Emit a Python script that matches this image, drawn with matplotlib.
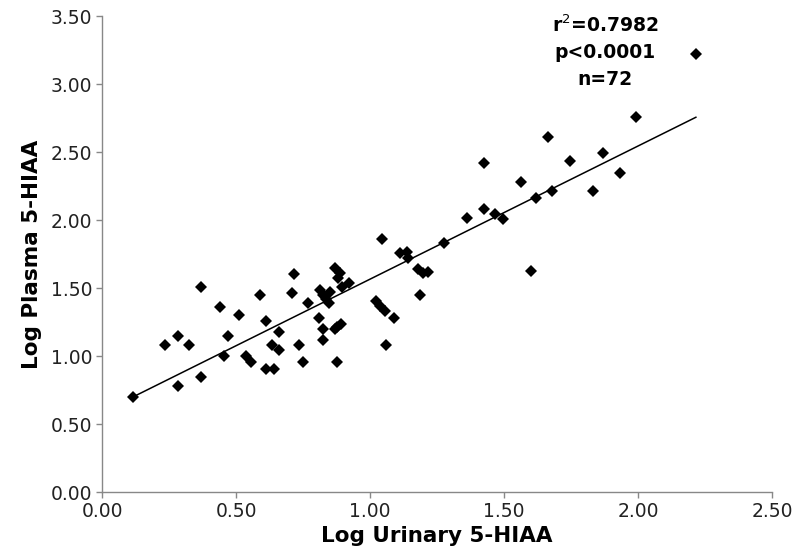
import numpy as np
import matplotlib
matplotlib.use('Agg')
import matplotlib.pyplot as plt

plt.rcParams['font.family'] = ['DejaVu Sans']

# log urinary 5-HIAA (x) vs log plasma 5-HIAA (y)
urinary = [0.117, 0.235, 0.282, 0.326, 0.282, 0.369, 0.369, 0.44, 0.469, 0.456,
           0.512, 0.537, 0.555, 0.59, 0.612, 0.612, 0.643, 0.633, 0.66, 0.66,
           0.717, 0.708, 0.767, 0.736, 0.751, 0.811, 0.826, 0.826, 0.876, 0.878,
           0.869, 0.891, 0.813, 0.823, 0.851, 0.848, 0.869, 0.888, 0.882, 0.894,
           0.923, 1.043, 1.021, 1.037, 1.056, 1.09, 1.06, 1.112, 1.137, 1.143,
           1.187, 1.178, 1.199, 1.218, 1.277, 1.665, 1.425, 1.871, 1.746, 1.933,
           1.563, 1.831, 1.68, 1.618, 1.426, 1.466, 1.497, 1.361, 1.601, 2.216,
           1.993, 0.835]
plasma = [0.70, 1.08, 1.147, 1.08, 0.78, 1.51, 0.848, 1.36, 1.147, 1.0,
          1.30, 1.0, 0.954, 1.45, 1.257, 0.904, 0.904, 1.08, 1.044, 1.18,
          1.603, 1.466, 1.387, 1.08, 0.954, 1.28, 1.20, 1.118, 0.958, 1.215,
          1.199, 1.233, 1.485, 1.449, 1.473, 1.392, 1.645, 1.608, 1.571, 1.51,
          1.539, 1.858, 1.404, 1.368, 1.331, 1.28, 1.08, 1.755, 1.767, 1.718,
          1.449, 1.637, 1.608, 1.62, 1.829, 2.612, 2.417, 2.495, 2.436, 2.348,
          2.282, 2.216, 2.213, 2.159, 2.081, 2.044, 2.007, 2.012, 1.627, 3.22,
          2.76, 1.42]

# regression line as drawn
slope, intercept = 0.979, 0.586
stats_text = ['r$^{2}$=0.7982', 'p<0.0001', 'n=72']

x = np.array(urinary); y = np.array(plasma)

fig = plt.figure(figsize=(8.06, 5.56), dpi=100)
ax = fig.add_axes([0.1266, 0.1151, 0.8312, 0.8561])

ax.plot(x, y, 'D', color='black', ms=6.6, mew=0, zorder=3)
xl = np.array([x.min(), x.max()])
ax.plot(xl, slope * xl + intercept, color='black', lw=1.1, zorder=2)

ax.set_xlim(0, 2.5); ax.set_ylim(0, 3.5)
ax.set_xticks(np.arange(0, 2.51, 0.5))
ax.set_yticks(np.arange(0, 3.51, 0.5))
ax.xaxis.set_major_formatter(plt.FormatStrFormatter('%.2f'))
ax.yaxis.set_major_formatter(plt.FormatStrFormatter('%.2f'))
ax.tick_params(direction='out', length=4, width=1, color='#888888',
               labelsize=13.5, labelcolor='#222222', pad=3)
for s in ['top', 'right']:
    ax.spines[s].set_visible(False)
for s in ['left', 'bottom']:
    ax.spines[s].set_color('#888888'); ax.spines[s].set_linewidth(1)

ax.set_xlabel('Log Urinary 5-HIAA', fontsize=15.5, fontweight='bold', labelpad=4)
ax.set_ylabel('Log Plasma 5-HIAA', fontsize=15.5, fontweight='bold', labelpad=6)

for i, t in enumerate(stats_text):
    ax.text(1.877, [3.43, 3.235, 3.03][i], t, ha='center', va='center',
            fontsize=13.5, fontweight='bold')

fig.savefig('out.png', dpi=100)
